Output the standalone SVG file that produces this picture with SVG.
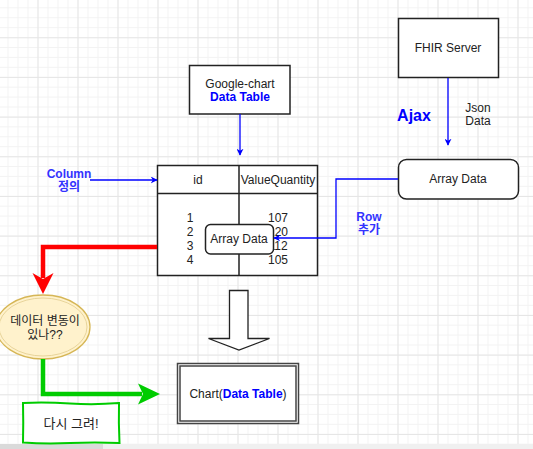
<svg xmlns="http://www.w3.org/2000/svg" width="533" height="449" viewBox="0 0 533 449">
<style>
text{font-family:"Liberation Sans","Noto Sans CJK KR",Arial,sans-serif;font-size:12px;fill:#222;text-anchor:middle}
.blue{fill:#0000ff;font-weight:bold}
.lbl{fill:#3333ff;font-weight:bold}
.box{fill:#fff;stroke:#222;stroke-width:1.5}
.conn{fill:none;stroke:#0000ff;stroke-width:1.3}
</style>
<defs>
<pattern id="minor" patternUnits="userSpaceOnUse" x="7.5" y="7.3" width="10" height="9.917">
<path d="M0 0.5H10M0.5 0V10" fill="none" stroke="#f3f3f3" stroke-width="1"/>
</pattern>
<pattern id="major" patternUnits="userSpaceOnUse" x="37.5" y="37.3" width="40" height="39.67">
<path d="M0 0.5H40M0.5 0V40" fill="none" stroke="#e6e6e6" stroke-width="1"/>
</pattern>
<marker id="ab" viewBox="0 0 10 10" refX="9" refY="5" markerWidth="7" markerHeight="7" orient="auto" markerUnits="userSpaceOnUse">
<path d="M0 0L10 5L0 10L3 5Z" fill="#0000ff"/>
</marker>
</defs>
<rect width="533" height="449" fill="#fff"/>
<rect width="533" height="449" fill="url(#minor)"/>
<rect width="533" height="449" fill="url(#major)"/>
<rect x="0" y="444" width="533" height="5" fill="#f0f0f0"/>
<rect x="0" y="444" width="103" height="5" fill="#dadada"/>

<g id="fhir">
<rect class="box" x="398.5" y="18.5" width="100" height="59"/>
<text x="448" y="52">FHIR Server</text>
</g>

<g id="arraydata">
<rect class="box" x="398.5" y="159.5" width="120" height="39.5" rx="8"/>
<text x="458" y="183">Array Data</text>
</g>

<g id="googlechart">
<rect class="box" x="189.5" y="65.5" width="100.5" height="48.5"/>
<text x="240" y="88">Google-chart</text>
<text x="240" y="101" class="blue">Data Table</text>
</g>

<g id="table">
<rect class="box" x="157.5" y="165.5" width="160" height="110"/>
<path d="M239 165.5V275.5M157.5 193.5H317.5" stroke="#222" stroke-width="1.5"/>
<text x="198" y="184">id</text>
<text x="278" y="184">ValueQuantity</text>
<text x="190" y="222">1</text>
<text x="190" y="236">2</text>
<text x="190" y="250">3</text>
<text x="190" y="264">4</text>
<text x="278" y="222">107</text>
<text x="278" y="236">120</text>
<text x="278" y="250">112</text>
<text x="278" y="264">105</text>
</g>

<g id="arraydata-small">
<rect class="box" x="205.5" y="224.5" width="68" height="29.5" rx="5"/>
<text x="239" y="243">Array Data</text>
</g>

<g id="bigarrow">
<path d="M229.5 290.5H248V338.5H269.5L239 350L208.5 338.5H229.5Z" fill="#fff" stroke="#222" stroke-width="1.3"/>
</g>

<g id="chart">
<rect x="177.5" y="363.5" width="121" height="60" fill="#fff" stroke="#444" stroke-width="1.5"/>
<rect x="180" y="366" width="116" height="55" fill="none" stroke="#444" stroke-width="1.5"/>
<text x="238" y="398">Chart(<tspan class="blue">Data Table</tspan>)</text>
</g>

<g id="decision">
<ellipse cx="43" cy="327" rx="47" ry="32" fill="#fff2cc" stroke="#d6b656" stroke-width="1.3"/>
<ellipse cx="43" cy="327" rx="44" ry="29" fill="none" stroke="#e8d49a" stroke-width="1"/>
<text x="45" y="325">데이터 변동이</text>
<text x="45" y="339">있나??</text>
</g>

<g id="redraw">
<path d="M23 403Q45 402 70 403.5T119 403Q118.5 423 119.5 443Q95 442 70 443T23 442.5Q23.5 423 23 403Z" fill="#fff" stroke="#00cc00" stroke-width="2"/>
<text x="71" y="428" style="font-size:13px">다시 그려!</text>
</g>

<g id="connectors">
<path class="conn" d="M448 78V145" marker-end="url(#ab)"/>
<path class="conn" d="M240 114V155" marker-end="url(#ab)"/>
<path class="conn" d="M90 180H157" marker-end="url(#ab)"/>
<path class="conn" d="M398 179H336V238H274" marker-end="url(#ab)"/>
<path d="M157 247H43V278" fill="none" stroke="#ff0000" stroke-width="4.5"/>
<path d="M32.5 273L43 294L53.5 273L43 279Z" fill="#ff0000"/>
<path d="M43 359V394H142" fill="none" stroke="#00cc00" stroke-width="4.5"/>
<path d="M138 383.5L160 394L138 404.5L143 394Z" fill="#00cc00"/>
<text x="414" y="121" class="blue" style="font-size:16px">Ajax</text>
<text x="478" y="112">Json</text>
<text x="478" y="125">Data</text>
<text x="69" y="178" class="lbl">Column</text>
<text x="69" y="191" class="lbl">정의</text>
<text x="369" y="221" class="lbl">Row</text>
<text x="369" y="234" class="lbl">추가</text>
</g>
</svg>
